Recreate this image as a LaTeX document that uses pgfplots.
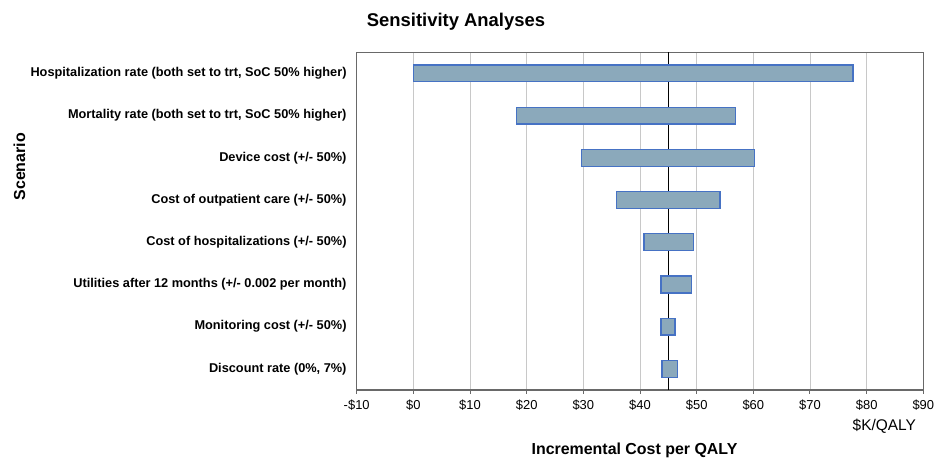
\documentclass[border=0pt]{standalone}
\usepackage{fontspec}
\setmainfont{Liberation Sans}
\usepackage{pgfplots}
\usepackage{pgfplotstable}
\pgfplotsset{compat=1.18}

\definecolor{barfill}{RGB}{139,169,187}
\definecolor{baredge}{RGB}{70,114,196}
\definecolor{gridgray}{RGB}{200,200,200}
\definecolor{framegray}{RGB}{105,105,105}

% low / high incremental cost per QALY ($K) for each scenario
\pgfplotstableread{
pos low high
1 0.0 77.6
2 18.2 56.9
3 29.7 60.2
4 35.9 54.1
5 40.7 49.4
6 43.7 49.1
7 43.7 46.2
8 43.9 46.6
}\sens

\begin{document}
\begin{tikzpicture}[x=1bp,y=1bp]
\useasboundingbox (0,0) rectangle (934,458);
\begin{axis}[
    at={(356.7bp,68bp)}, anchor=south west,
    scale only axis, width=566.6bp, height=337.7bp,
    xmin=-10, xmax=90, ymin=0.5, ymax=8.5, y dir=reverse,
    xbar stacked, bar width=0.4,
    xtick={-10,0,...,90},
    xticklabels={-\$10,\$0,\$10,\$20,\$30,\$40,\$50,\$60,\$70,\$80,\$90},
    ytick={1,...,8},
    yticklabels={
        {Hospitalization rate (both set to trt, SoC 50\% higher)},
        {Mortality rate (both set to trt, SoC 50\% higher)},
        {Device cost (+/- 50\%)},
        {Cost of outpatient care (+/- 50\%)},
        {Cost of hospitalizations (+/- 50\%)},
        {Utilities after 12 months (+/- 0.002 per month)},
        {Monitoring cost (+/- 50\%)},
        {Discount rate (0\%, 7\%)}},
    xtick pos=bottom, ytick pos=left,
    tick align=outside, major tick length=4bp,
    xtick style={framegray, line width=1bp},
    ytick style={draw=none},
    xmajorgrids, major grid style={gridgray, line width=0.9bp},
    axis line style={framegray, line width=1.2bp},
    xticklabel style={font=\fontsize{13}{15}\selectfont, inner sep=0pt, anchor=north},
    xticklabel shift=6bp,
    yticklabel style={font=\bfseries\fontsize{12.8}{15}\selectfont, inner sep=0pt, anchor=east},
    yticklabel shift=6bp,
]
    \addplot[draw=none, fill=none] table[x=low, y=pos] {\sens};
    \addplot[fill=barfill, draw=baredge, line width=1.3bp]
        table[x expr=\thisrow{high}-\thisrow{low}, y=pos] {\sens};
    \addplot[sharp plot, stack plots=false, black, line width=1.2bp]
        coordinates {(45,0.5) (45,8.5)};
\end{axis}
\node[font=\bfseries\fontsize{18.5}{20}\selectfont] at (456,436.3) {Sensitivity Analyses};
\node[rotate=90, font=\bfseries\fontsize{16}{18}\selectfont] at (19.5,291.3) {Scenario};
\node[font=\fontsize{15.5}{17}\selectfont] at (884.3,31.3) {\$K/QALY};
\node[font=\bfseries\fontsize{16}{18}\selectfont] at (634.5,8) {Incremental Cost per QALY};
\end{tikzpicture}
\end{document}
